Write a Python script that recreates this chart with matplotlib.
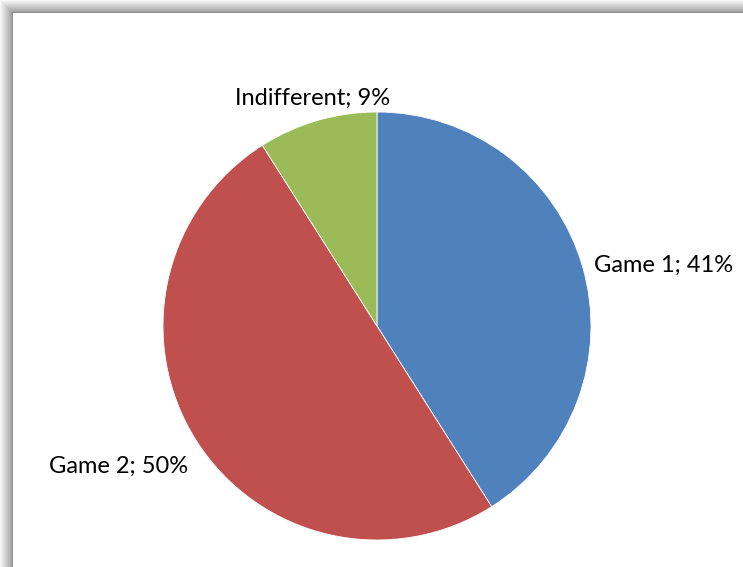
import matplotlib
matplotlib.use("Agg")
import matplotlib.pyplot as plt
import numpy as np

plt.rcParams["font.family"] = ["Lato", "DejaVu Sans"]

labels = ["Game 1", "Game 2", "Indifferent"]
shares = [41, 50, 9]
colors = ["#4F81BD", "#C0504D", "#9BBB59"]

W, H = 743, 567
fig = plt.figure(figsize=(W / 100, H / 100), dpi=100)

# background with grey shadow frame on left and top
bg = fig.add_axes([0, 0, 1, 1])
bg.set_xlim(0, W)
bg.set_ylim(H, 0)
bg.axis("off")
img = np.ones((H, W))
edge = 13
ramp = np.linspace(0.97, 0.62, edge)
for i in range(edge):
    img[i:, i] = np.minimum(img[i:, i], ramp[i])
    img[i, i:] = np.minimum(img[i, i:], ramp[i])
img[edge:, edge - 1] = 0.55
img[edge - 1, edge - 1:] = 0.55
bg.imshow(img, cmap="gray", vmin=0, vmax=1, extent=(0, W, H, 0), interpolation="nearest")

ax = fig.add_axes([0, 0, 1, 1])
cx, cy, r = 377, H - 326, 214
wedges, _ = ax.pie(shares, colors=colors, startangle=90, counterclock=False,
                   center=(cx, cy), radius=r, frame=True,
                   wedgeprops=dict(edgecolor="white", linewidth=0.6))
ax.set_xlim(0, W)
ax.set_ylim(0, H)
ax.set_aspect("equal")
ax.axis("off")

# label placement (pixels) per slice
label_pos = [(594, H - 265, "left"), (188, H - 466, "right"), (313, H - 98, "center")]
for lab, val, (x, y, ha) in zip(labels, shares, label_pos):
    ax.text(x, y, f"{lab}; {val}%", ha=ha, va="center", fontsize=17, color="black")

fig.savefig("out.png", dpi=100)
